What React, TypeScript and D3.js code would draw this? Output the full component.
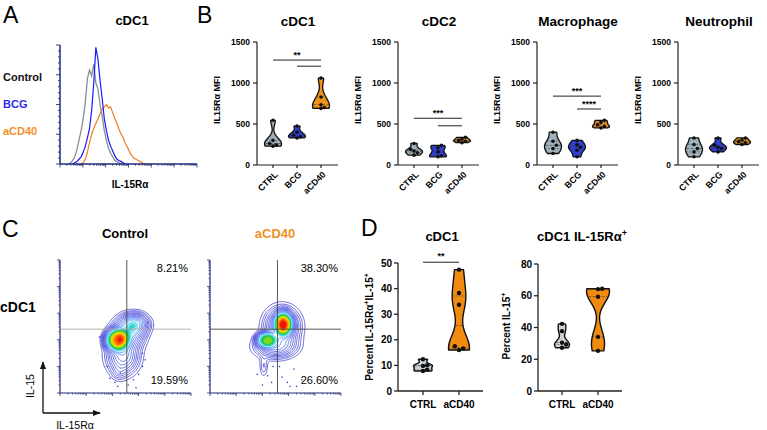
import React from "react";
import * as d3 from "d3";

const FONT = "'Liberation Sans', Arial, Helvetica, sans-serif";

// ---------- Panel A: histogram (percent of mode per channel bin) ----------
const histLegend = ["Control", "BCG", "aCD40"];
const histControl = [0,0,0,0,0,1,3,6,12,20,28,38,52,72,79,74,84,68,63,50,40,28,20,13,9,6,3,2,1,0,0,0,0,0,0,0,0,0,0,0,0,0];
const histBCG = [0,0,0,0,0,0,0,1,2,4,6,10,15,22,30,45,68,98,88,70,55,38,28,20,15,11,7,4,3,2,1,0,0,0,0,0,0,0,0,0,0,0];
const histCD40 = [0,0,0,0,0,0,0,0,0,0,0,1,4,10,18,25,30,34,38,42,46,48,50,47,48,43,38,34,29,25,22,17,14,10,7,5,4,3,2,1,0,0];

// ---------- Panel B: IL15Ra MFI ----------
const groupsB = ["CTRL", "BCG", "aCD40"];
const mfiTicks = [0, 500, 1000, 1500];
const cdc1Ctrl = [230, 245, 262, 300, 545];
const cdc1Bcg = [330, 345, 362, 400, 475];
const cdc1Cd40 = [690, 700, 735, 830, 1060];
const cdc2Ctrl = [120, 150, 170, 190, 262];
const cdc2Bcg = [100, 112, 160, 210, 240];
const cdc2Cd40 = [272, 290, 300, 318, 338];
const macCtrl = [140, 200, 240, 290, 400];
const macBcg = [100, 180, 215, 245, 300];
const macCd40 = [452, 470, 490, 520, 545];
const neuCtrl = [100, 160, 200, 250, 330];
const neuBcg = [160, 200, 215, 240, 330];
const neuCd40 = [250, 270, 285, 305, 330];
const cdc1Sig = [{ a: "CTRL", b: "aCD40", y: 1280, label: "**" }, { a: "BCG", b: "aCD40", y: 1205, label: "" }];
const cdc2Sig = [{ a: "CTRL", b: "aCD40", y: 570, label: "***" }, { a: "BCG", b: "aCD40", y: 478, label: "" }];
const macSig = [{ a: "CTRL", b: "aCD40", y: 840, label: "***" }, { a: "BCG", b: "aCD40", y: 683, label: "****" }];
const neuSig: any[] = [];

// ---------- Panel C: contour plots (density components in axis units) ----------
const ctrlBlobs = [
  { x: 0.52, y: 0.45, sx: 0.07, sy: 0.065, w: 0.3, p: 1 },
  { x: 0.48, y: 0.28, sx: 0.07, sy: 0.08, w: 0.25, p: 1 },
  { x: 0.435, y: 0.40, sx: 0.065, sy: 0.06, w: 0.7, p: 1.5 },
  { x: 0.57, y: 0.52, sx: 0.06, sy: 0.045, w: 0.3, p: 1 },
  { x: 0.45, y: 0.15, sx: 0.035, sy: 0.035, w: 0.04, p: 1 },
];
const cd40Blobs = [
  { x: 0.55, y: 0.50, sx: 0.075, sy: 0.08, w: 0.3, p: 1 },
  { x: 0.50, y: 0.35, sx: 0.09, sy: 0.05, w: 0.22, p: 1 },
  { x: 0.56, y: 0.52, sx: 0.05, sy: 0.065, w: 0.65, p: 1.5 },
  { x: 0.43, y: 0.40, sx: 0.055, sy: 0.042, w: 0.5, p: 1.5 },
  { x: 0.41, y: 0.20, sx: 0.02, sy: 0.05, w: 0.05, p: 1 },
];
const ctrlDots = [[0.63,0.30],[0.65,0.25],[0.56,0.10],[0.42,0.08],[0.46,0.15],[0.38,0.11],[0.63,0.20],[0.30,0.42],[0.67,0.53],[0.52,0.06],[0.44,0.05],[0.60,0.14],[0.36,0.20],[0.58,0.04]];
const cd40Dots = [[0.40,0.06],[0.44,0.13],[0.48,0.20],[0.59,0.08],[0.61,0.05],[0.66,0.05],[0.53,0.20],[0.47,0.08],[0.36,0.14],[0.55,0.12],[0.70,0.10],[0.64,0.18]];
const ctrlGate = [0.51, 0.48];
const cd40Gate = [0.515, 0.48];
const ctrlPct = ["8.21%", "19.59%"];
const cd40Pct = ["38.30%", "26.60%"];

// ---------- Panel D ----------
const groupsD = ["CTRL", "aCD40"];
const dblTicks = [0, 10, 20, 30, 40, 50];
const dblCtrl = [7.8, 8.3, 9.8, 10.1, 12.4];
const dblCd40 = [16.0, 16.6, 17.5, 33.7, 38.3, 47.4];
const il15Ticks = [0, 20, 40, 60, 80];
const il15Ctrl = [27.2, 29.3, 30.5, 37.7, 42.3];
const il15Cd40 = [25.3, 34.1, 59.4, 64.2, 64.4];

const COL_CTRL = "#9eb0ba";
const COL_BCG = "#2f3fd2";
const COL_CD40 = "#f0901e";
const NAVY = "#1f2a7a";

const LEVELS = [0.02, 0.035, 0.05, 0.07, 0.09, 0.115, 0.145, 0.18, 0.22, 0.27, 0.32, 0.38, 0.45, 0.52, 0.6, 0.68, 0.76, 0.84, 0.9, 0.95];
const LEVEL_COLORS = ["#3636c8", "#3636cc", "#3838d0", "#3838d4", "#3a3ad8", "#3a3edc", "#3a44e0", "#3850e4", "#3460ea", "#3070ee", "#2c88f2",
  "#80e4f0", "#30d4c8", "#20c850", "#80d820", "#e8e800", "#ffa000", "#ff5000", "#f01010", "#ffc0c0"];

function swarm(values: number[], y: any, cx: number, r: number) {
  const placed: { x: number; y: number }[] = [];
  const offs = [0, 1, -1, 2, -2, 3, -3];
  values.slice().sort((a, b) => a - b).forEach((v) => {
    const py = y(v);
    let done = false;
    for (const o of offs) {
      const px = cx + o * r * 1.9;
      if (!placed.some((p) => Math.hypot(p.x - px, p.y - py) < r * 1.9)) {
        placed.push({ x: px, y: py });
        done = true;
        break;
      }
    }
    if (!done) placed.push({ x: cx, y: py });
  });
  return placed;
}

function Violin({ values, cx, y, halfW, fill, bwFrac = 0.2, r = 2, sw = 1.3 }: any) {
  const lo = d3.min(values) as number;
  const hi = d3.max(values) as number;
  const bw = Math.max((hi - lo) * bwFrac, 1e-6);
  const n = 40;
  const grid = d3.range(n + 1).map((i) => lo + ((hi - lo) * i) / n);
  const dens = grid.map((g) => d3.sum(values, (v: number) => Math.exp(-0.5 * ((g - v) / bw) ** 2)));
  const m = d3.max(dens) as number;
  const pts = grid.map((g, i) => ({ v: g, w: (dens[i] / m) * halfW }));
  const area = d3.area<any>().y((d) => y(d.v)).x0((d) => cx - d.w).x1((d) => cx + d.w).curve(d3.curveBasis);
  const sorted = values.slice().sort((a: number, b: number) => a - b);
  const wAt = (v: number) => {
    const dd = d3.sum(values, (u: number) => Math.exp(-0.5 * ((v - u) / bw) ** 2));
    return (dd / m) * halfW;
  };
  const q = [0.25, 0.5, 0.75].map((p) => d3.quantile(sorted, p) as number);
  const dots = swarm(values, y, cx, r);
  return (
    <g>
      <path d={area(pts) as string} fill={fill} stroke="#111" strokeWidth={sw} strokeLinejoin="round" />
      {q.map((v, i) => (
        <line key={i} x1={cx - wAt(v) * 0.95} x2={cx + wAt(v) * 0.95} y1={y(v)} y2={y(v)}
          stroke="#333" strokeWidth={0.8} strokeDasharray={i === 1 ? "3,1.5" : "1.5,1.5"} opacity={0.75} />
      ))}
      {dots.map((d, i) => (
        <circle key={i} cx={d.x} cy={d.y} r={r} fill="#111" />
      ))}
    </g>
  );
}

function MfiPanel({ x0, title, data, sig }: any) {
  const y = d3.scaleLinear().domain([0, 1500]).range([165, 42]);
  const x = d3.scalePoint().domain(groupsB).range([x0 + 16, x0 + 64]);
  const fills = [COL_CTRL, COL_BCG, COL_CD40];
  return (
    <g>
      <text x={x0 + 41} y={26} textAnchor="middle" fontSize={13.5} fontWeight="bold">{title}</text>
      <text transform={`translate(${x0 - 37},${100}) rotate(-90)`} textAnchor="middle" fontSize={9} fontWeight="bold">
        IL15Rα MFI
      </text>
      <line x1={x0} x2={x0} y1={y(1500)} y2={y(0)} stroke="#222" strokeWidth={1.2} />
      <line x1={x0} x2={x0 + 81} y1={y(0)} y2={y(0)} stroke="#222" strokeWidth={1.2} />
      {mfiTicks.map((t) => (
        <g key={t}>
          <line x1={x0 - 4} x2={x0} y1={y(t)} y2={y(t)} stroke="#222" strokeWidth={1.2} />
          <text x={x0 - 7} y={y(t)} dy="0.35em" textAnchor="end" fontSize={8.5} fontWeight="bold">{t}</text>
        </g>
      ))}
      {groupsB.map((g, i) => (
        <g key={g}>
          <line x1={x(g)} x2={x(g)} y1={y(0)} y2={y(0) + 3} stroke="#222" strokeWidth={1.2} />
          <text transform={`translate(${(x(g) as number) + 3},${y(0) + 8}) rotate(-45)`} textAnchor="end" dy="0.35em" fontSize={8.8} fontWeight="bold">{g}</text>
          <Violin values={data[i]} cx={x(g)} y={y} halfW={8.5} fill={fills[i]} bwFrac={0.2} r={1.8} />
        </g>
      ))}
      {sig.map((s: any, i: number) => (
        <g key={i}>
          <line x1={x(s.a)} x2={x(s.b)} y1={y(s.y)} y2={y(s.y)} stroke="#222" strokeWidth={1} />
          {s.label && (
            <text x={((x(s.a) as number) + (x(s.b) as number)) / 2} y={y(s.y) - 2} textAnchor="middle" fontSize={9} fontWeight="bold">{s.label}</text>
          )}
        </g>
      ))}
    </g>
  );
}

function FlowPlot({ x0, x1, y0, y1, blobs, dots, gate, pct, hColor }: any) {
  const xs = d3.scaleLinear().domain([0, 1]).range([x0, x1]);
  const ys = d3.scaleLinear().domain([0, 1]).range([y1, y0]);
  const n = 120;
  const vals: number[] = new Array(n * n);
  for (let j = 0; j < n; j++) {
    for (let i = 0; i < n; i++) {
      const gx = (i + 0.5) / n;
      const gy = (j + 0.5) / n;
      vals[j * n + i] = d3.sum(blobs, (b: any) => {
        const r2 = ((gx - b.x) / b.sx) ** 2 + ((gy - b.y) / b.sy) ** 2;
        return b.w * Math.exp(-0.5 * Math.pow(r2, b.p));
      });
    }
  }
  const contours = d3.contours().size([n, n]).thresholds(LEVELS)(vals);
  const proj = d3.geoTransform({
    point: function (this: any, px: number, py: number) {
      this.stream.point(xs(px / n), ys(py / n));
    },
  });
  const path = d3.geoPath(proj as any);
  const logTicks = d3.scaleLog().domain([1, 1e5]).ticks();
  const lx = d3.scaleLog().domain([1, 1e5]).range([x0, x1]);
  const ly = d3.scaleLog().domain([1, 1e5]).range([y1, y0]);
  const isMajor = (t: number) => Math.abs(Math.log10(t) - Math.round(Math.log10(t))) < 1e-6;
  return (
    <g>
      {dots.map((d: number[], i: number) => (
        <rect key={i} x={xs(d[0]) - 0.6} y={ys(d[1]) - 0.6} width={1.3} height={1.3} fill="#3030c8" />
      ))}
      {contours.map((c: any, i: number) => (
        <path key={i} d={path(c) as string} fill={i >= 11 ? LEVEL_COLORS[i] : "none"} stroke={LEVEL_COLORS[i]} strokeWidth={i >= 11 ? 0.6 : 0.75} />
      ))}
      <line x1={xs(gate[0])} x2={xs(gate[0])} y1={y0} y2={y1} stroke="#444" strokeWidth={0.9} />
      <line x1={x0} x2={x1} y1={ys(gate[1])} y2={ys(gate[1])} stroke={hColor} strokeWidth={0.9} />
      <text x={x1 - 3} y={y0 + 12} textAnchor="end" fontSize={11}>{pct[0]}</text>
      <text x={x1 - 3} y={y1 - 9} textAnchor="end" fontSize={11}>{pct[1]}</text>
      <line x1={x0} x2={x0} y1={y0} y2={y1} stroke={NAVY} strokeWidth={1.2} />
      <line x1={x0} x2={x1} y1={y1} y2={y1} stroke={NAVY} strokeWidth={1.2} />
      {logTicks.map((t, i) => (
        <g key={i}>
          <line x1={x0} x2={x0 - (isMajor(t) ? 3 : 1.5)} y1={ly(t)} y2={ly(t)} stroke={NAVY} strokeWidth={0.8} />
          <line x1={lx(t)} x2={lx(t)} y1={y1} y2={y1 + (isMajor(t) ? 3 : 1.5)} stroke={NAVY} strokeWidth={0.8} />
        </g>
      ))}
    </g>
  );
}

function PercentPanel({ x0, xOff, xEnd, yTop, ticks, max, data, title, ylabel, halfW, sig }: any) {
  const y = d3.scaleLinear().domain([0, max]).range([391, yTop]);
  const x = d3.scalePoint().domain(groupsD).range([x0 + xOff[0], x0 + xOff[1]]);
  const fills = ["#cdd4d9", "#f08a10"];
  return (
    <g>
      {title}
      {ylabel}
      <line x1={x0} x2={x0} y1={y(max)} y2={y(0)} stroke="#222" strokeWidth={1.3} />
      <line x1={x0} x2={x0 + xEnd} y1={y(0)} y2={y(0)} stroke="#222" strokeWidth={1.3} />
      {ticks.map((t: number) => (
        <g key={t}>
          <line x1={x0 - 4} x2={x0} y1={y(t)} y2={y(t)} stroke="#222" strokeWidth={1.3} />
          <text x={x0 - 6} y={y(t)} dy="0.35em" textAnchor="end" fontSize={10} fontWeight="bold">{t}</text>
        </g>
      ))}
      {groupsD.map((g, i) => (
        <g key={g}>
          <line x1={x(g)} x2={x(g)} y1={y(0)} y2={y(0) + 4} stroke="#222" strokeWidth={1.3} />
          <text x={x(g)} y={408} textAnchor="middle" fontSize={10} fontWeight="bold">{g}</text>
          <Violin values={data[i]} cx={x(g)} y={y} halfW={halfW[i]} fill={fills[i]} bwFrac={0.17} r={2.2} sw={1.4} />
        </g>
      ))}
      {sig && (
        <g>
          <line x1={x(sig.a)} x2={x(sig.b)} y1={y(sig.y)} y2={y(sig.y)} stroke="#222" strokeWidth={1} />
          <text x={((x(sig.a) as number) + (x(sig.b) as number)) / 2} y={y(sig.y) - 3} textAnchor="middle" fontSize={9} fontWeight="bold">{sig.label}</text>
        </g>
      )}
    </g>
  );
}

export default function App() {
  // Panel A scales
  const hx = d3.scaleLinear().domain([0, 64]).range([60, 195]);
  const hy = d3.scaleLinear().domain([0, 100]).range([164, 45]);
  const histLine = (arr: number[]) => {
    const first = Math.max(0, arr.findIndex((v) => v > 0) - 1);
    let last = arr.length - 1;
    while (last > 0 && arr[last - 1] === 0) last--;
    const pts = arr.map((v, i) => [i, v]).slice(first, last + 1);
    return d3.line<any>().x((d) => hx(d[0])).y((d) => hy(d[1]))(pts) as string;
  };
  const yMinor = d3.range(0, 101, 5);
  const lxA = d3.scaleLog().domain([1, 1e6]).range([60, 197]);
  const xTicksA = d3.scaleLog().domain([1, 1e6]).ticks();
  const histCols = ["#111", "#2b2bf0", "#f0902a"];

  return (
    <svg width={767} height={430} style={{ position: "absolute", left: 0, top: 0, background: "#fff" }} fontFamily={FONT}>
      {/* panel letters */}
      <text x={3} y={23} fontSize={23}>A</text>
      <text x={197} y={23} fontSize={23}>B</text>
      <text x={2} y={237} fontSize={23}>C</text>
      <text x={361} y={236} fontSize={23}>D</text>

      {/* Panel A */}
      <text x={132} y={25} textAnchor="middle" fontSize={13} fontWeight="bold">cDC1</text>
      {histLegend.map((l, i) => (
        <text key={l} x={3} y={81 + i * 27} fontSize={11} fontWeight="bold" fill={histCols[i]}>{l}</text>
      ))}
      <path d={histLine(histCD40)} fill="none" stroke="#f07d1e" strokeWidth={1.2} />
      <path d={histLine(histControl)} fill="none" stroke="#8a8f8f" strokeWidth={1.3} />
      <path d={histLine(histBCG)} fill="none" stroke="#1a1aff" strokeWidth={1.2} />
      <line x1={60} x2={60} y1={45} y2={164} stroke={NAVY} strokeWidth={1.5} />
      <line x1={60} x2={197} y1={164} y2={164} stroke={NAVY} strokeWidth={1.5} />
      {yMinor.map((t) => (
        <line key={t} x1={60} x2={60 - (t % 25 === 0 ? 4 : 2)} y1={hy(t)} y2={hy(t)} stroke={NAVY} strokeWidth={0.9} />
      ))}
      {xTicksA.map((t, i) => (
        <line key={i} x1={lxA(t)} x2={lxA(t)} y1={164} y2={164 + (Math.abs(Math.log10(t) - Math.round(Math.log10(t))) < 1e-6 ? 3.5 : 1.8)} stroke={NAVY} strokeWidth={0.8} />
      ))}
      <text x={130} y={188} textAnchor="middle" fontSize={10} fontWeight="bold">IL-15Rα</text>

      {/* Panel B */}
      <MfiPanel x0={257} title="cDC1" data={[cdc1Ctrl, cdc1Bcg, cdc1Cd40]} sig={cdc1Sig} />
      <MfiPanel x0={398} title="cDC2" data={[cdc2Ctrl, cdc2Bcg, cdc2Cd40]} sig={cdc2Sig} />
      <MfiPanel x0={537} title="Macrophage" data={[macCtrl, macBcg, macCd40]} sig={macSig} />
      <MfiPanel x0={678} title="Neutrophil" data={[neuCtrl, neuBcg, neuCd40]} sig={neuSig} />

      {/* Panel C */}
      <text x={125} y={238} textAnchor="middle" fontSize={13} fontWeight="bold">Control</text>
      <text x={275} y={238} textAnchor="middle" fontSize={13} fontWeight="bold" fill="#f0901e">aCD40</text>
      <text x={0} y={312} fontSize={14} fontWeight="bold">cDC1</text>
      <FlowPlot x0={60} x1={191} y0={260} y1={393} blobs={ctrlBlobs} dots={ctrlDots} gate={ctrlGate} pct={ctrlPct} hColor="#aaaaaa" />
      <FlowPlot x0={210} x1={341} y0={260} y1={393} blobs={cd40Blobs} dots={cd40Dots} gate={cd40Gate} pct={cd40Pct} hColor="#444" />
      <defs>
        <marker id="arr" viewBox="0 0 10 10" refX="9" refY="5" markerWidth="6" markerHeight="6" orient="auto">
          <path d="M0,1 L10,5 L0,9 z" fill="#111" />
        </marker>
      </defs>
      <line x1={43} x2={43} y1={413} y2={362} stroke="#111" strokeWidth={1.3} markerEnd="url(#arr)" />
      <line x1={43} x2={100} y1={413} y2={413} stroke="#111" strokeWidth={1.3} markerEnd="url(#arr)" />
      <text transform="translate(34,386) rotate(-90)" textAnchor="middle" fontSize={10.5}>IL-15</text>
      <text x={75} y={429} textAnchor="middle" fontSize={10.5}>IL-15Rα</text>

      {/* Panel D left */}
      <PercentPanel
        x0={398} xOff={[25, 61]} xEnd={85} yTop={263} ticks={dblTicks} max={50}
        data={[dblCtrl, dblCd40]} halfW={[9.5, 10.5]}
        sig={{ a: "CTRL", b: "aCD40", y: 50.3, label: "**" }}
        title={<text x={442} y={241} textAnchor="middle" fontSize={13} fontWeight="bold">cDC1</text>}
        ylabel={
          <text transform="translate(373,327) rotate(-90)" textAnchor="middle" fontSize={10} fontWeight="bold">
            Percent IL-15Rα<tspan dy={-4} fontSize={7}>+</tspan><tspan dy={4}>IL-15</tspan><tspan dy={-4} fontSize={7}>+</tspan>
          </text>
        }
      />
      {/* Panel D right */}
      <PercentPanel
        x0={538} xOff={[24, 60]} xEnd={84} yTop={264} ticks={il15Ticks} max={80}
        data={[il15Ctrl, il15Cd40]} halfW={[7.5, 11.5]}
        sig={null}
        title={
          <text x={582} y={241} textAnchor="middle" fontSize={13} fontWeight="bold">
            cDC1 IL-15Rα<tspan dy={-5} fontSize={9}>+</tspan>
          </text>
        }
        ylabel={
          <text transform="translate(510,326) rotate(-90)" textAnchor="middle" fontSize={10} fontWeight="bold">
            Percent IL-15<tspan dy={-4} fontSize={7}>+</tspan>
          </text>
        }
      />
    </svg>
  );
}
